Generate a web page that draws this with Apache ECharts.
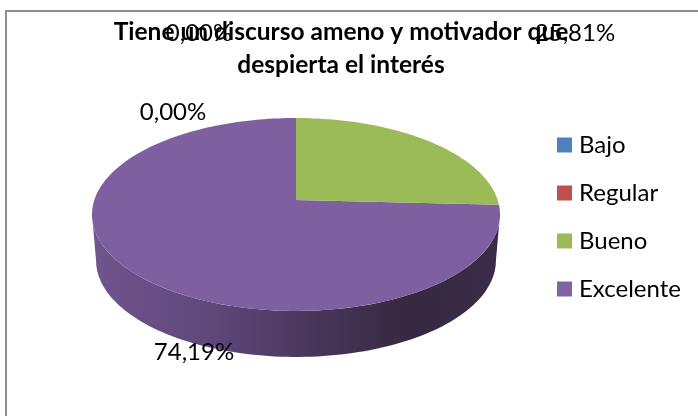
<!DOCTYPE html>
<html><head><meta charset="utf-8">
<style>html,body{margin:0;padding:0;background:#fff}#c{width:698px;height:416px}</style>
<script src="https://cdn.jsdelivr.net/npm/echarts@6/dist/echarts.min.js"></script>
</head><body><div id="c"></div>
<script>
const titleLines = ['Tiene un discurso ameno y motivador que', 'despierta el interés'];
const categories = ['Bajo', 'Regular', 'Bueno', 'Excelente'];
const seriesValues = [0, 0, 25.81, 74.19];
const valueLabels = ['0,00%', '0,00%', '25,81%', '74,19%'];
const colors = ['#4F81BD', '#C0504D', '#9BBB59', '#8064A2'];
const faceColors = ['#4F81BD', '#C0504D', '#9BBB59', '#7E60A0'];
const labelPos = [[173, 112], [199, 33], [575, 33], [194, 352]];

const cx = 296, cy = 200, A = 201.7, C = 94.3, K = 0.15, depth = 46, shrink = 0.98;
const total = seriesValues.reduce((a, b) => a + b, 0);
function project(deg) {
  const t = deg * Math.PI / 180, X = Math.sin(t), Y = Math.cos(t), d = 1 + K * Y;
  return [cx + A * X / d, cy - C * Y / d];
}
function arc(a0, a1) {
  const n = Math.max(2, Math.ceil(Math.abs(a1 - a0) / 1.5)), p = [];
  for (let i = 0; i <= n; i++) p.push(project(a0 + (a1 - a0) * i / n));
  return p;
}
const starts = [];
seriesValues.reduce((acc, v, i) => { starts[i] = acc; return acc + v; }, 0);

function render(i) {
  return function () {
    const children = [];
    const a0 = starts[i] / total * 360, a1 = (starts[i] + seriesValues[i]) / total * 360;
    if (i === 3) {
      const top = arc(98.6, 261.4);
      const bottom = top.slice().reverse().map(p => [cx + (p[0] - cx) * shrink, p[1] + depth]);
      children.push({
        type: 'polygon', shape: { points: top.concat(bottom) },
        style: {
          fill: new echarts.graphic.LinearGradient(0, 0, 1, 0, [
            { offset: 0, color: '#70558e' },
            { offset: 0.3, color: '#5f4779' },
            { offset: 0.55, color: '#483659' },
            { offset: 0.78, color: '#35283f' },
            { offset: 1, color: '#3b2d49' }
          ])
        }
      });
    }
    if (seriesValues[i] > 0) {
      children.push({
        type: 'polygon', shape: { points: [[cx, cy]].concat(arc(a0, a1)) },
        style: { fill: faceColors[i] }
      });
    }
    children.push({
      type: 'text', z2: 50,
      style: {
        x: labelPos[i][0], y: labelPos[i][1], text: valueLabels[i],
        font: '24px Lato', fill: '#000', align: 'center', verticalAlign: 'middle'
      }
    });
    return { type: 'group', children };
  };
}

const order = [3, 2, 0, 1];
const chart = echarts.init(document.getElementById('c'), null, { renderer: 'canvas' });
chart.setOption({
  animation: false,
  backgroundColor: '#fff',
  title: {
    text: titleLines.join('\n'), left: 341, top: 16, textAlign: 'center', padding: 0,
    textStyle: { fontFamily: 'Lato', fontWeight: 'bold', fontSize: 24.5, lineHeight: 33, color: '#000' }
  },
  legend: {
    data: categories, orient: 'vertical', left: 557, top: 133, padding: 0, itemWidth: 15, itemHeight: 15, itemGap: 24,
    icon: 'rect', selectedMode: false,
    textStyle: { fontFamily: 'Lato', fontSize: 24, lineHeight: 24, color: '#000', padding: [0, 0, 0, 2] }
  },
  graphic: [{
    type: 'polyline', silent: true,
    shape: { points: [[6, 416], [6, 11], [698, 11]] },
    style: { fill: null, stroke: '#8e8e8e', lineWidth: 2 }
  }],
  xAxis: { show: false, min: 0, max: 1 },
  yAxis: { show: false, min: 0, max: 1 },
  grid: { left: 0, right: 0, top: 0, bottom: 0 },
  series: order.map(i => ({
    type: 'custom', name: categories[i], coordinateSystem: 'none',
    itemStyle: { color: colors[i] }, silent: true,
    data: [seriesValues[i]], renderItem: render(i), z: 2
  }))
});
</script></body></html>
